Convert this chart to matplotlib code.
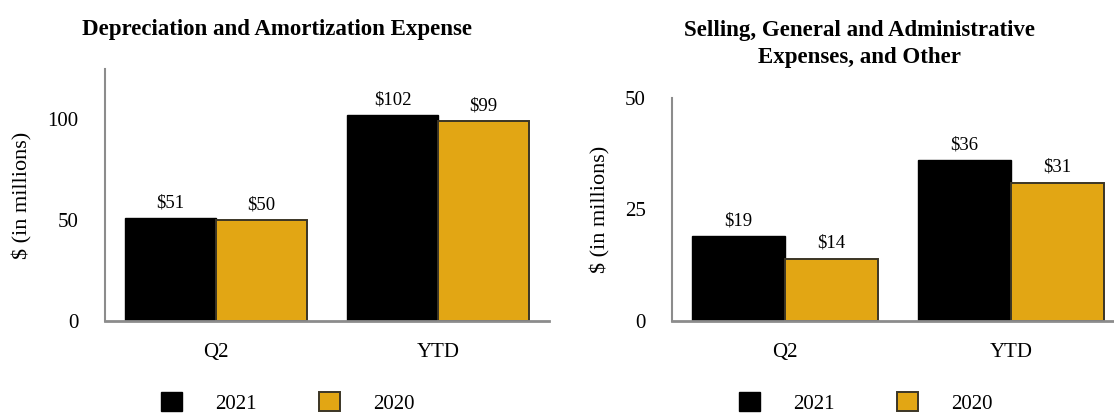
import numpy as np
import matplotlib
matplotlib.use("Agg")
import matplotlib.pyplot as plt
from matplotlib.patches import Patch

plt.rcParams["font.family"] = ["Liberation Serif", "DejaVu Serif"]

periods = ["Q2", "YTD"]
years = ["2021", "2020"]

# depreciation and amortization expense, $ millions
da_2021 = [51, 102]
da_2020 = [50, 99]

# selling, general and administrative expenses, and other, $ millions
sga_2021 = [19, 36]
sga_2020 = [14, 31]

BLACK = "#000000"
GOLD = "#E2A614"
EDGE = "#3b3526"
AXIS = "#8c8c8c"

fig = plt.figure(figsize=(11.14, 4.15), dpi=100)
ax1 = fig.add_axes([0.0943, 0.2265, 0.3986, 0.6072])
ax2 = fig.add_axes([0.6032, 0.2265, 0.4057, 0.5374])


def draw(ax, v21, v20, ymax, yticks):
    x = np.arange(len(periods))
    w = 0.41
    b1 = ax.bar(x - w / 2, v21, w, color=BLACK, edgecolor=BLACK, linewidth=1.0)
    b2 = ax.bar(x + w / 2, v20, w, color=GOLD, edgecolor=EDGE, linewidth=1.4)
    for bars, vals in ((b1, v21), (b2, v20)):
        for r, v in zip(bars, vals):
            ax.annotate("$%d" % v, (r.get_x() + r.get_width() / 2, v),
                        xytext=(0, 5), textcoords="offset points",
                        ha="center", va="bottom", fontsize=13.5)
    ax.set_xlim(-0.5, 1.5)
    ax.set_ylim(0, ymax)
    ax.set_yticks(yticks)
    ax.set_xticks(x)
    ax.set_xticklabels(periods, fontsize=15)
    ax.tick_params(axis="y", length=0, pad=19, labelsize=15)
    ax.tick_params(axis="x", length=0, pad=16)
    for s in ("top", "right"):
        ax.spines[s].set_visible(False)
    ax.spines["left"].set_color(AXIS)
    ax.spines["left"].set_linewidth(1.5)
    ax.spines["bottom"].set_color(AXIS)
    ax.spines["bottom"].set_linewidth(2.0)
    ax.set_ylabel("$ (in millions)", fontsize=16)
    return b1, b2


draw(ax1, da_2021, da_2020, 125, [0, 50, 100])
draw(ax2, sga_2021, sga_2020, 50, [0, 25, 50])
ax1.yaxis.set_label_coords(-0.164, 0.5)
ax2.yaxis.set_label_coords(-0.137, 0.5)

fig.text(277 / 1114, 1 - 29 / 415, "Depreciation and Amortization Expense",
         ha="center", va="center", fontsize=16.5, fontweight="bold")
fig.text(859 / 1114, 1 - 44 / 415,
         "Selling, General and Administrative\nExpenses, and Other",
         ha="center", va="center", fontsize=16.5, fontweight="bold",
         linespacing=1.4)

handles = [Patch(facecolor=BLACK, edgecolor=BLACK),
           Patch(facecolor=GOLD, edgecolor=EDGE, linewidth=1.4)]
for ax, cx in ((ax1, 288), (ax2, 866)):
    ax.legend(handles, years, loc="center", ncol=2, frameon=False,
              bbox_to_anchor=(cx / 1114, 1 - 403 / 415),
              bbox_transform=fig.transFigure, fontsize=15,
              handlelength=1.0, handleheight=1.0, handletextpad=1.6,
              columnspacing=3.0, borderpad=0)

fig.savefig("out.png", dpi=100)
